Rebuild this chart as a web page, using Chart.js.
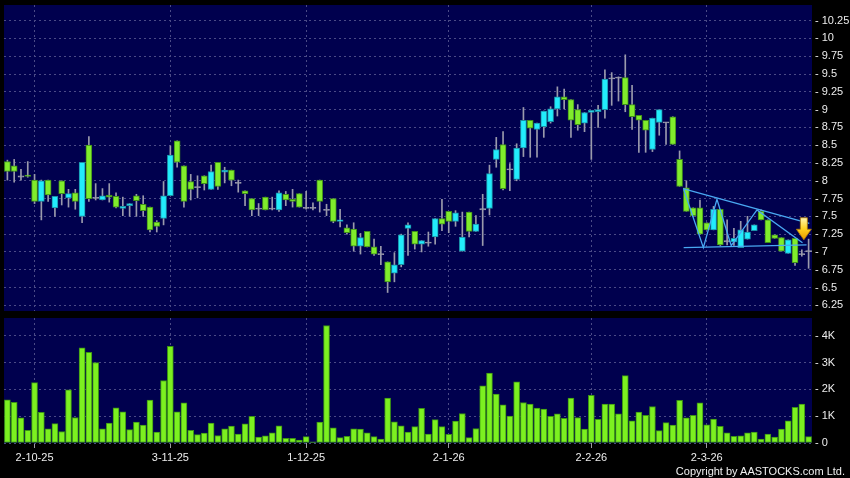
<!DOCTYPE html>
<html>
<head>
<meta charset="utf-8">
<script src="https://cdn.jsdelivr.net/npm/chart.js@4.4.1/dist/chart.umd.min.js"></script>
<style>
  body { margin: 0; background: #000; width: 850px; height: 478px; overflow: hidden; position: relative; }
  #priceBox { position: absolute; left: 0; top: 0; }
  #volBox { position: absolute; left: 0; top: 316px; }
  #copy { position: absolute; right: 5px; top: 465px; color: #f0f0f0; font: 11px 'Liberation Sans', Arial, sans-serif; }
</style>
</head>
<body>
<canvas id="priceBox" width="850" height="316"></canvas>
<canvas id="volBox" width="850" height="162"></canvas>
<div id="copy">Copyright by AASTOCKS.com Ltd.</div>
<script>
// daily candles, one per trading day (index 0 = late Sept 2025)
const opens = [
  8.27,8.21,8.06,8.08,8.01,7.71,8.01,7.62,8.00,7.76,
  7.83,7.50,8.50,7.76,7.73,7.80,7.78,7.61,7.65,7.79,
  7.67,7.63,7.42,7.47,7.79,8.56,8.21,7.99,7.91,8.07,
  7.88,8.26,8.12,8.15,7.97,7.86,7.75,7.61,7.77,7.61,
  7.59,7.81,7.74,7.82,7.62,7.62,8.01,7.59,7.75,7.43,
  7.34,7.32,7.08,7.29,7.07,6.97,6.86,6.70,6.82,7.33,
  7.29,7.11,7.13,7.21,7.47,7.57,7.43,7.01,7.56,7.29,
  7.60,7.61,8.30,8.51,8.16,8.02,8.46,8.85,8.72,8.76,
  8.83,9.01,9.18,9.14,9.00,8.81,8.96,8.97,9.00,9.44,
  9.45,9.45,9.07,8.92,8.85,8.44,8.82,8.82,8.90,8.30,
  7.90,7.62,7.62,7.41,7.31,7.60,7.15,7.14,7.06,7.18,
  7.30,7.57,7.45,7.24,7.20,6.98,7.19,6.97,7.01
];
const highs = [
  8.29,8.30,8.16,8.27,8.09,8.01,8.01,7.78,8.00,7.88,
  7.88,8.26,8.62,7.96,7.89,7.96,7.83,7.77,7.68,7.81,
  7.79,7.63,7.44,7.99,8.49,8.56,8.21,8.09,8.07,8.07,
  8.22,8.26,8.19,8.15,8.01,7.86,7.75,7.68,7.77,7.77,
  7.86,7.85,7.88,7.82,7.85,7.69,8.01,7.67,7.75,7.60,
  7.38,7.41,7.26,7.29,7.18,7.08,6.86,6.99,7.25,7.41,
  7.29,7.16,7.28,7.47,7.74,7.57,7.58,7.56,7.56,7.51,
  7.81,8.22,8.61,8.69,8.24,8.52,9.03,8.85,8.81,8.98,
  9.04,9.32,9.29,9.14,9.07,8.96,8.99,9.06,9.56,9.52,
  9.46,9.77,9.34,8.92,8.85,8.88,9.00,8.82,8.90,8.42,
  8.00,7.62,7.73,7.41,7.64,7.60,7.45,7.33,7.43,7.50,
  7.38,7.59,7.45,7.24,7.20,7.17,7.19,7.03,7.18
];
const lows = [
  8.01,7.98,8.01,8.05,7.68,7.45,7.71,7.50,7.66,7.63,
  7.60,7.41,7.71,7.73,7.73,7.70,7.62,7.51,7.50,7.50,
  7.50,7.28,7.28,7.38,7.79,8.19,7.63,7.73,7.76,7.87,
  7.88,7.88,7.97,7.93,7.84,7.65,7.51,7.51,7.59,7.59,
  7.57,7.65,7.63,7.63,7.60,7.59,7.56,7.51,7.41,7.35,
  7.25,7.01,6.97,7.07,6.95,6.82,6.43,6.58,6.79,6.95,
  7.04,7.00,7.08,7.11,7.30,7.27,7.36,7.01,7.21,7.29,
  7.09,7.52,8.19,7.87,7.86,8.00,8.34,8.33,8.33,8.61,
  8.81,8.91,9.01,8.61,8.71,8.69,8.30,8.75,8.88,9.06,
  9.12,8.97,8.72,8.40,8.40,8.41,8.64,8.51,8.51,7.92,
  7.57,7.50,7.25,7.31,7.31,7.09,7.10,7.09,7.06,7.18,
  7.30,7.45,7.13,7.19,7.01,6.98,6.81,6.94,6.77
];
const closes = [
  8.13,8.13,8.06,8.06,7.71,8.00,7.80,7.78,7.82,7.82,
  7.71,8.26,7.75,7.76,7.79,7.77,7.63,7.64,7.68,7.72,
  7.58,7.31,7.36,7.79,8.36,8.26,7.71,7.88,7.91,7.96,
  8.13,7.92,8.15,8.01,7.97,7.82,7.59,7.61,7.59,7.61,
  7.83,7.73,7.71,7.63,7.62,7.62,7.71,7.59,7.43,7.45,
  7.27,7.08,7.20,7.07,6.97,6.97,6.58,6.82,7.24,7.38,
  7.11,7.16,7.13,7.47,7.39,7.43,7.55,7.21,7.29,7.39,
  7.60,8.10,8.44,7.89,8.16,8.46,8.85,8.74,8.81,8.98,
  9.01,9.18,9.14,8.85,8.79,8.96,8.99,9.00,9.43,9.44,
  9.45,9.07,8.90,8.85,8.71,8.88,9.00,8.82,8.51,7.92,
  7.57,7.51,7.25,7.31,7.60,7.10,7.15,7.19,7.31,7.28,
  7.38,7.45,7.13,7.19,7.01,7.17,6.85,6.97,7.01
];
// volume in thousands of shares
const volumes = [
  1.61,1.52,0.94,0.47,2.25,1.14,0.53,0.72,0.43,1.98,
  0.95,3.55,3.38,3.00,0.53,0.74,1.31,1.16,0.50,0.78,
  0.67,1.60,0.41,2.33,3.60,1.16,1.50,0.47,0.31,0.37,
  0.74,0.28,0.53,0.63,0.33,0.71,0.99,0.22,0.27,0.38,
  0.64,0.17,0.17,0.11,0.24,0.04,0.78,4.38,0.57,0.20,
  0.25,0.53,0.52,0.38,0.24,0.15,1.67,0.79,0.64,0.41,
  0.61,1.29,0.33,0.87,0.61,0.32,0.82,1.10,0.20,0.54,
  2.13,2.61,1.82,1.42,1.00,2.28,1.51,1.45,1.30,1.26,
  0.99,1.09,0.92,1.67,0.95,0.52,1.78,0.88,1.45,1.45,
  1.09,2.51,0.83,1.15,1.03,1.36,0.46,0.76,0.67,1.59,
  0.94,1.03,1.50,0.68,0.89,0.62,0.38,0.25,0.27,0.38,
  0.41,0.15,0.33,0.22,0.52,0.83,1.33,1.45,0.24
];

// x axis labels sit on the first trading day of each month
const tickIdx = [4, 24, 44, 65, 86, 103];
const tickText = ['2-10-25', '3-11-25', '1-12-25', '2-1-26', '2-2-26', '2-3-26'];
const priceTicks = [6.25,6.5,6.75,7,7.25,7.5,7.75,8,8.25,8.5,8.75,9,9.25,9.5,9.75,10,10.25];
const priceTickText = ['6.25','6.5','6.75','7','7.25','7.5','7.75','8','8.25','8.5','8.75','9','9.25','9.5','9.75','10','10.25'];
const volTicks = [0, 1, 2, 3, 4];
const volTickText = ['0', '1K', '2K', '3K', '4K'];

// hand drawn pattern lines at the right end (x = day index, y = price)
const trendTop = [{x: 99.5, y: 7.89}, {x: 118.1, y: 7.40}];
const trendBottom = [{x: 99.6, y: 7.06}, {x: 117.7, y: 7.10}];
const zigzag = [{x: 99.6, y: 7.88}, {x: 102.5, y: 7.06}, {x: 104.5, y: 7.74}, {x: 106.6, y: 7.09}, {x: 110.4, y: 7.59}, {x: 117.1, y: 7.13}];
const arrowMark = {x: 117.3, top: 7.48, tip: 7.17};

const days = opens.map((_, i) => i);
const fontFamily = "'Liberation Sans', Arial, sans-serif";
const gridColor = '#4a4a86';
const textColor = '#ececec';
const CYAN = '#22ecfc', CYAN_EDGE = '#1a8fa6';
const GREEN = '#80ec2c', GREEN_EDGE = '#3f8f1a';
const GREY = '#9a9aac';

const isDoji = i => Math.abs(closes[i] - opens[i]) < 0.005;
const bodies = opens.map((o, i) => isDoji(i) ? [o - 0.008, o + 0.008] : [o, closes[i]]);
const bodyFill = opens.map((o, i) => isDoji(i) ? GREY : (closes[i] > o ? CYAN : GREEN));
const bodyEdge = opens.map((o, i) => isDoji(i) ? GREY : (closes[i] > o ? CYAN_EDGE : GREEN_EDGE));
const wicks = lows.map((l, i) => [l, highs[i]]);

const panelBg = {
  id: 'panelBg',
  beforeDraw(chart) {
    const { ctx, chartArea: a } = chart;
    ctx.save();
    ctx.fillStyle = '#000';
    ctx.fillRect(0, 0, chart.width, chart.height);
    ctx.fillStyle = '#00004e';
    ctx.fillRect(a.left, a.top, a.right - a.left, a.bottom - a.top);
    ctx.restore();
  }
};

const arrowPlugin = {
  id: 'arrow',
  afterDatasetsDraw(chart) {
    const { ctx } = chart;
    const cx = chart.scales.xl.getPixelForValue(arrowMark.x);
    const top = chart.scales.y.getPixelForValue(arrowMark.top);
    const tip = chart.scales.y.getPixelForValue(arrowMark.tip);
    const neck = top + (tip - top) * 0.52;
    const g = ctx.createLinearGradient(0, top, 0, tip);
    g.addColorStop(0, '#fff6b0');
    g.addColorStop(0.5, '#ffd21e');
    g.addColorStop(1, '#e89a00');
    ctx.save();
    ctx.beginPath();
    ctx.moveTo(cx - 3.5, top);
    ctx.lineTo(cx + 3.5, top);
    ctx.lineTo(cx + 3.5, neck);
    ctx.lineTo(cx + 7.5, neck);
    ctx.lineTo(cx, tip);
    ctx.lineTo(cx - 7.5, neck);
    ctx.lineTo(cx - 3.5, neck);
    ctx.closePath();
    ctx.fillStyle = g;
    ctx.fill();
    ctx.strokeStyle = '#b07800';
    ctx.lineWidth = 0.8;
    ctx.stroke();
    ctx.restore();
  }
};

function xAxis(showLabels) {
  return {
    type: 'category',
    offset: true,
    afterBuildTicks: s => { s.ticks = tickIdx.map(v => ({ value: v })); },
    afterFit: s => { s.height = showLabels ? 24 : 0; },
    grid: { color: gridColor, offset: false, drawTicks: showLabels, tickLength: 5,
            tickColor: '#9a9aa0', tickBorderDash: [] },
    border: { display: false, dash: [2, 3] },
    ticks: {
      display: showLabels, autoSkip: false, maxRotation: 0, padding: 3,
      color: textColor, font: { size: 11, family: fontFamily },
      callback: v => tickText[tickIdx.indexOf(v)]
    }
  };
}

function yAxis(min, max, values, text) {
  return {
    position: 'right', min: min, max: max,
    afterBuildTicks: s => { s.ticks = values.map(v => ({ value: v })); },
    // fixed width, and no extra room reserved for the end labels
    afterFit: s => { s.width = 38; s.paddingTop = 0; s.paddingBottom = 0; },
    grid: { color: gridColor, drawTicks: false },
    border: { display: false, dash: [2, 3] },
    ticks: {
      padding: 3, color: textColor, font: { size: 11, family: fontFamily },
      callback: v => '- ' + text[values.indexOf(v)]
    }
  };
}

const lineStyle = { type: 'line', xAxisID: 'xl', borderColor: '#49a8f2', borderWidth: 1.3,
                    pointRadius: 0, fill: false, tension: 0 };

new Chart(document.getElementById('priceBox'), {
  type: 'bar',
  data: {
    labels: days,
    datasets: [
      { ...lineStyle, data: trendTop },
      { ...lineStyle, data: trendBottom },
      { ...lineStyle, data: zigzag },
      { data: bodies, backgroundColor: bodyFill, borderColor: bodyEdge, borderWidth: 1,
        borderSkipped: false, barThickness: 6, grouped: false },
      { data: wicks, backgroundColor: GREY, barThickness: 1, grouped: false }
    ]
  },
  options: {
    responsive: false, animation: false,
    layout: { padding: { left: 4, top: 5, right: 0, bottom: 5 } },
    plugins: { legend: { display: false }, tooltip: { enabled: false } },
    scales: {
      x: xAxis(false),
      xl: { type: 'linear', display: false, offset: false, grid: { offset: false },
            min: -0.5, max: opens.length - 0.5 },
      y: yAxis(6.17, 10.47, priceTicks, priceTickText)
    }
  },
  plugins: [panelBg, arrowPlugin]
});

new Chart(document.getElementById('volBox'), {
  type: 'bar',
  data: {
    labels: days,
    datasets: [
      { data: volumes, backgroundColor: '#7cf020', borderColor: '#3c9414', borderWidth: 1,
        borderSkipped: false, barThickness: 6 }
    ]
  },
  options: {
    responsive: false, animation: false,
    layout: { padding: { left: 4, top: 2, right: 0, bottom: 11 } },
    plugins: { legend: { display: false }, tooltip: { enabled: false } },
    scales: {
      x: xAxis(true),
      y: yAxis(0, 4.66, volTicks, volTickText)
    }
  },
  plugins: [panelBg]
});
</script>
</body>
</html>
